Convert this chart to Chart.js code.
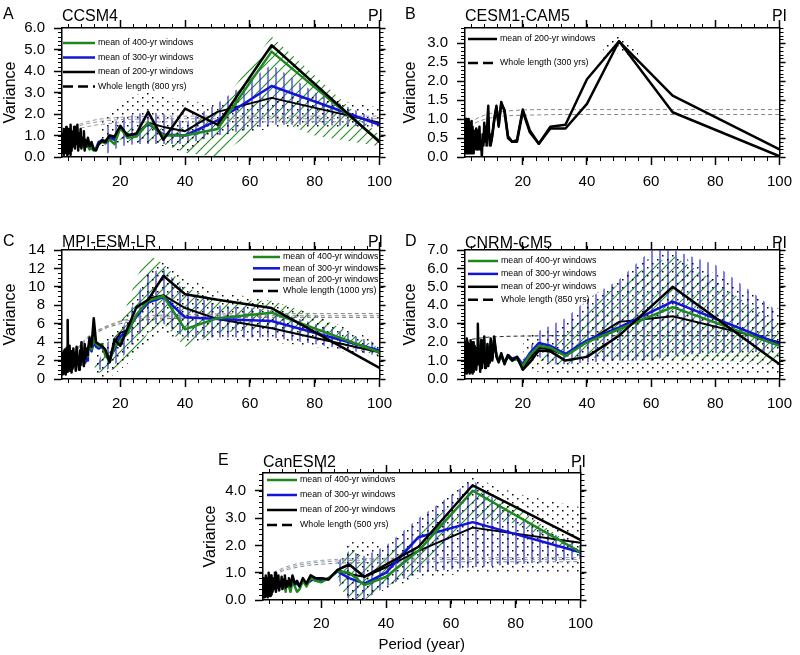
<!DOCTYPE html>
<html>
<head>
<meta charset="utf-8">
<script src="https://cdn.jsdelivr.net/npm/chart.js@4/dist/chart.umd.min.js"></script>
<style>
body { margin: 0; background: #fff; width: 800px; height: 655px; position: relative; overflow: hidden;
       font-family: "Liberation Sans", Arial, Helvetica, sans-serif; }
canvas { position: absolute; }
.lab { position: absolute; font-size: 16px; line-height: 16px; color: #000; white-space: nowrap; }
</style>
</head>
<body>
<canvas id="cA" width="400" height="200" style="left:0;top:0"></canvas>
<canvas id="cB" width="400" height="200" style="left:400px;top:0"></canvas>
<canvas id="cC" width="400" height="200" style="left:0;top:222px"></canvas>
<canvas id="cD" width="400" height="200" style="left:400px;top:222px"></canvas>
<canvas id="cE" width="400" height="210" style="left:200px;top:445px"></canvas>

<div class="lab" style="left:3px;top:6px">A</div>
<div class="lab" style="left:62px;top:8px">CCSM4</div>
<div class="lab" style="right:417px;top:8px">PI</div>
<div class="lab" style="left:405px;top:6px">B</div>
<div class="lab" style="left:465px;top:8px">CESM1-CAM5</div>
<div class="lab" style="right:13px;top:8px">PI</div>
<div class="lab" style="left:3px;top:233px">C</div>
<div class="lab" style="left:62px;top:234px">MPI-ESM-LR</div>
<div class="lab" style="right:417px;top:234px">PI</div>
<div class="lab" style="left:405px;top:233px">D</div>
<div class="lab" style="left:465px;top:235px">CNRM-CM5</div>
<div class="lab" style="right:13px;top:235px">PI</div>
<div class="lab" style="left:218px;top:452px">E</div>
<div class="lab" style="left:263px;top:454px">CanESM2</div>
<div class="lab" style="right:214px;top:454px">PI</div>

<script>
// periods (years) of the spectral estimates; series below are aligned to the long-period end
const periods = [2.0,2.1,2.2,2.3,2.4,2.5,2.6,2.7,2.8,2.9,3.0,3.1,3.2,3.3,3.4,3.5,3.6,3.7,3.8,3.9,
                 4.0,4.1,4.2,4.3,4.4,4.5,4.6,4.7,4.8,4.9,
                 5.0,5.25,5.5,5.75,6.0,6.25,6.5,6.75,7.0,7.25,7.5,7.75,8.0,8.25,8.5,8.75,9.0,9.25,9.5,9.75,
                 10.0,10.5,11.1,11.8,12.5,13.3,14.3,15.4,16.7,18.2,
                 20.0,22.2,25.0,28.6,33.3,40.0,50.0,66.7,100];
const rnPeriods = [2, 3, 4, 6, 8, 10, 13, 16, 20, 25, 30, 40, 60, 100];
const xTicks = [20, 40, 60, 80, 100];

// A  CCSM4
const aBlack  = [0.3,1.1,0.2,0.9,0.4,1.3,0.1,0.8,0.5,1.2,0.2,1.0,0.3,1.4,0.6,0.9,0.1,1.2,0.4,1.0,
                 0.2,1.3,0.7,1.1,0.3,0.9,0.1,1.5,0.5,1.2,
                 0.3,1.0,0.5,1.4,0.4,1.2,0.6,1.5,0.3,1.1,0.5,1.3,0.4,0.9,0.6,1.2,0.3,0.8,0.5,0.7,
                 0.9,0.5,0.7,0.35,0.3,0.6,0.75,0.7,1.0,0.95, 1.45,1.0,1.1,2.1,0.8,2.25,1.5,5.2,0.7];
const aBlack2 = [0.8,0.5,0.6,0.4,0.35,0.65,0.8,0.75,1.0,0.9, 1.35,1.05,1.05,1.6,1.4,1.2,2.1,2.75,1.6];
const aGreen  = [0.5,0.6,0.4,0.7,0.5,0.6, 0.5,0.35,0.4,0.3,0.35,0.6,0.7,0.65,0.8,0.6, 1.35,0.9,0.95,1.6,1.0,1.0,1.3,4.9,0.75];
const aBlue   = [0.6,0.5,0.7,0.5,0.6,0.5, 0.6,0.4,0.45,0.35,0.4,0.7,0.75,0.7,0.9,0.8, 1.4,1.0,1.05,1.55,1.05,1.0,1.7,3.3,1.5];
const aRn1 = [1.0,1.15,1.3,1.45,1.55,1.65,1.75,1.8,1.85,1.88,1.9,1.9,1.9,1.9];
const aRn2 = [0.95,1.1,1.22,1.38,1.48,1.56,1.64,1.7,1.74,1.76,1.78,1.78,1.78,1.78];
const aRn3 = [0.9,1.02,1.12,1.26,1.35,1.42,1.5,1.55,1.6,1.62,1.63,1.64,1.64,1.64];
const aHatchX = [14, 20, 25, 28.6, 33.3, 40, 50, 66.7, 80, 100];
const aDotLo = [0.5,0.6,0.6,0.6,0.5,0.2,1.0,1.3,1.4,1.3], aDotHi = [1.8,2.4,2.9,3.0,2.8,2.6,2.5,2.8,2.8,2.3];
const aVLo   = [0.0,0.5,0.6,0.6,0.6,0.6,1.0,1.5,1.5,1.4], aVHi   = [1.2,1.8,2.0,2.1,2.0,1.6,2.5,4.3,3.0,1.7];
const aDLo   = [0.5,0.8,0.7,0.7,0.6,0.2,0.0,1.8,1.0,0.5], aDHi   = [0.8,1.3,1.4,1.5,1.3,1.4,2.2,5.6,3.8,1.0];

// B  CESM1-CAM5
const bBlack  = [1.0,0.1,0.8,0.2,1.0,0.3,0.1,0.9,0.2,0.7,0.1,1.0,0.4,0.2,0.8,0.1,0.9,0.3,0.6,0.1,
                 0.95,0.2,0.7,0.1,0.8,0.3,0.5,0.1,0.7,0.2,
                 0.6,0.25,0.75,0.2,0.7,0.3,0.8,0.2,0.4,0.0,0.6,0.3,0.9,0.4,0.8,0.3,1.0,1.35,0.6,0.3,
                 0.3,0.6,1.0,1.35,0.8,1.45,1.2,0.5,0.4,0.45, 1.25,0.7,0.35,0.8,0.85,2.05,3.05,1.62,0.2];
const bBlack2 = [0.35,0.55,0.95,1.3,0.85,1.4,1.25,0.55,0.4,0.4, 1.2,0.65,0.35,0.75,0.75,1.4,3.05,1.18,0.02];
const bRn1 = [0.75,0.85,0.93,1.03,1.1,1.15,1.19,1.22,1.24,1.25,1.25,1.25,1.25,1.25];
const bRn2 = [0.65,0.76,0.84,0.93,0.99,1.03,1.07,1.09,1.1,1.11,1.12,1.12,1.12,1.12];
const bHatchX = [45, 50, 56];
const bDotLo = [2.6,2.75,2.5], bDotHi = [2.9,3.25,2.8];

// C  MPI-ESM-LR
const cBlack  = [1.0,2.8,0.5,2.2,0.8,3.0,1.2,2.5,0.6,3.2,1.0,2.6,0.5,2.9,1.5,3.4,0.8,2.2,6.4,1.5,
                 3.5,1.0,2.8,1.4,3.6,0.9,2.4,1.2,3.0,0.7,
                 2.6,1.1,3.3,1.4,2.8,0.9,3.5,1.6,2.4,1.0,3.1,1.5,4.0,2.0,2.8,1.4,3.8,2.2,3.3,2.6,
                 3.0,4.5,3.5,6.6,4.0,3.8,3.6,3.2,1.8,4.3, 3.6,5.5,7.8,8.6,11.2,9.2,8.6,7.7,1.2];
const cBlack2 = [3.2,4.0,3.5,5.5,3.8,3.7,3.5,3.0,2.2,4.0, 5.0,5.3,6.8,8.7,9.1,7.7,6.5,5.5,2.9];
const cGreen  = [1.5,2.4,0.8,2.0,1.0,2.6,1.3,2.2,0.9,2.8,1.2,2.3,0.8,2.5,1.6,3.0,1.0,2.0,3.5,1.7,
                 3.0,1.2,2.5,1.6,3.2,1.1,2.2,1.4,2.7,0.9,
                 2.3,1.3,3.0,1.6,2.5,1.1,3.1,1.8,2.2,1.2,2.8,1.7,3.5,2.2,2.6,1.6,3.4,2.3,3.0,2.5,
                 3.0,3.8,3.2,4.5,3.8,3.5,3.8,2.5,2.0,3.5, 4.2,5.0,7.0,8.5,9.0,5.4,6.6,7.2,2.9];
const cBlue   = [2.5,1.5,2.8,1.8,3.0,2.0, 3.0,3.5,3.0,4.0,3.5,3.3,3.5,2.8,2.3,3.2, 4.6,5.3,6.8,8.3,8.9,6.7,6.5,6.3,3.1];
const cRn1 = [0.8,1.5,2.1,3.1,3.9,4.6,5.3,5.8,6.3,6.7,6.9,7.0,7.1,7.1];
const cRn2 = [0.8,1.5,2.0,3.0,3.8,4.5,5.2,5.7,6.2,6.5,6.7,6.8,6.9,6.9];
const cRn3 = [0.7,1.4,1.9,2.9,3.7,4.4,5.1,5.6,6.0,6.3,6.5,6.6,6.7,6.7];
const cHatchX = [12, 16, 20, 25, 28.6, 33.3, 40, 50, 66.7, 80, 100];
const cDotLo = [0.0,0.0,1.0,2.5,4.0,5.0,4.0,4.3,4.0,3.5,2.4], cDotHi = [3.0,4.5,6.0,9.0,11.5,13.0,11.0,9.5,8.5,7.0,4.0];
const cVLo   = [1.0,1.0,2.0,4.5,6.0,6.0,4.5,4.5,4.5,3.8,2.5], cVHi   = [1.0,4.0,5.0,9.0,11.5,12.0,9.5,8.0,7.5,6.0,3.8];
const cDLo   = [0.5,1.0,1.0,3.0,5.0,6.0,3.5,5.0,5.5,4.5,2.5], cDHi   = [1.5,3.0,6.0,11.0,13.5,12.5,10.0,8.5,8.5,7.0,3.3];

// D  CNRM-CM5
const dBlack  = [1.0,2.0,0.5,1.7,0.3,2.2,0.8,1.5,0.4,2.0,0.6,1.9,0.5,1.8,0.3,1.6,0.9,2.1,0.4,1.4,
                 0.7,1.9,0.5,1.7,0.3,2.0,0.8,1.5,0.4,1.8,
                 0.6,1.7,0.5,1.3,3.0,0.8,1.5,0.4,2.1,0.6,1.6,0.9,2.3,0.6,1.4,0.8,1.9,0.7,1.2,0.9,
                 2.2,1.0,2.3,1.2,0.9,1.4,0.8,1.3,1.0,1.2, 0.5,0.9,1.55,1.5,1.0,1.2,2.35,5.0,0.8];
const dBlack2 = [2.0,1.1,2.1,1.3,1.0,1.3,0.9,1.2,1.0,1.1, 0.6,1.1,1.7,1.6,1.3,2.0,3.1,3.4,2.0];
const dGreen  = [1.2,1.7,0.6,1.5,0.5,1.9,0.9,1.4,0.6,1.8,0.8,1.5,0.7,1.6,0.5,1.4,1.0,1.8,0.6,1.3,
                 0.9,1.7,0.7,1.5,0.5,1.8,0.9,1.3,0.6,1.6,
                 0.8,1.5,0.7,1.2,2.2,1.0,1.4,0.7,1.9,0.8,1.5,1.0,2.0,0.8,1.3,0.9,1.7,0.8,1.1,1.0,
                 2.0,1.2,2.2,1.3,1.0,1.2,0.9,1.2,1.0,1.1, 0.7,1.3,1.8,1.7,1.25,2.0,2.7,3.9,1.8];
const dBlue   = [1.3,0.8,1.8,1.0,1.4,1.1, 1.9,1.1,2.0,1.3,1.0,1.3,0.9,1.3,1.1,1.2, 0.8,1.4,1.95,1.8,1.35,2.1,2.8,4.2,1.9];
const dRn1 = [2.05,2.1,2.15,2.2,2.25,2.28,2.3,2.32,2.33,2.34,2.35,2.35,2.35,2.35];
const dHatchX = [20, 25, 28.6, 33.3, 40, 50, 60, 66.7, 80, 100];
const dDotLo = [0.5,0.4,0.3,0.3,0.3,0.3,0.3,0.3,0.3,0.3], dDotHi = [2.5,2.5,2.6,3.0,4.3,5.5,6.6,6.9,5.7,3.8];
const dVLo   = [1.0,1.2,0.8,0.8,0.9,1.0,1.0,1.3,1.4,1.5], dVHi   = [1.0,2.6,2.9,3.3,4.3,5.4,7.0,7.0,6.2,3.6];
const dDLo   = [1.0,1.0,0.8,0.8,1.2,1.0,1.0,1.0,1.0,0.8], dDHi   = [1.0,1.0,1.6,2.3,3.7,5.2,6.2,6.7,5.3,2.9];

// E  CanESM2
const eBlack  = [0.2,0.6,0.1,0.8,0.2,0.5,0.1,0.7,0.3,0.9,0.15,0.6,0.35,0.8,0.1,0.65,0.3,1.0,0.2,0.55,
                 0.4,0.85,0.15,0.7,0.3,0.9,0.2,0.6,0.35,0.8,
                 0.3,0.75,0.4,1.0,0.3,0.7,0.45,0.9,0.35,0.65,0.5,0.85,0.4,0.75,0.55,0.9,0.45,0.7,0.5,0.6,
                 0.8,0.5,0.9,0.6,0.7,0.5,0.8,0.6,0.9,0.8, 0.8,0.75,1.1,1.3,0.85,1.3,1.95,4.2,2.2];
const eBlack2 = [0.75,0.55,0.85,0.6,0.65,0.55,0.75,0.6,0.85,0.8, 0.8,0.75,1.1,0.95,0.85,1.2,1.8,2.65,2.1];
const eGreen  = [0.4,0.6,0.3,0.7,0.5,0.6, 0.6,0.3,0.7,0.5,0.3,0.4,0.7,0.5,0.8,0.7, 0.65,0.8,1.05,1.0,0.55,0.85,1.8,4.0,1.75];
const eBlue   = [0.5,0.4,0.6,0.5,0.6,0.5, 0.6,0.5,0.6,0.55,0.6,0.5,0.7,0.6,0.7,0.8, 0.7,0.8,1.05,0.8,0.6,1.0,2.3,2.85,1.75];
const eRn1 = [0.6,0.72,0.82,0.96,1.06,1.13,1.21,1.27,1.31,1.35,1.37,1.39,1.4,1.4];
const eRn2 = [0.63,0.76,0.87,1.01,1.11,1.19,1.28,1.34,1.39,1.43,1.45,1.47,1.48,1.48];
const eRn3 = [0.66,0.8,0.91,1.06,1.16,1.25,1.34,1.4,1.45,1.49,1.51,1.53,1.55,1.55];
const eHatchX = [25, 28.6, 33.3, 40, 50, 66.7, 80, 100];
const eDotLo = [1.0,0.0,0.0,0.4,0.8,1.0,1.0,1.0], eDotHi = [1.4,2.1,2.2,2.0,3.0,4.5,3.9,3.4];
const eVLo   = [0.8,0.0,0.0,0.5,1.0,1.2,1.3,1.5], eVHi   = [1.4,1.8,1.6,2.0,3.0,4.4,3.0,2.0];
const eDLo   = [0.6,0.0,0.0,0.5,1.0,3.0,2.8,1.6], eDHi   = [1.0,2.0,1.5,1.7,2.5,4.1,3.4,1.8];

const legendMeans = ['mean of 400-yr windows', 'mean of 300-yr windows', 'mean of 200-yr windows'];

const GREEN = 'rgb(30,135,30)';
const BLUE = 'rgb(20,20,215)';
const FONT = '"Liberation Sans", Arial, Helvetica, sans-serif';

// series aligned to the long-period end of `periods`
function tail(ys) {
  const xs = periods.slice(periods.length - ys.length);
  return xs.map((x, i) => ({x: x, y: ys[i]}));
}
function zip(xs, ys) { return xs.map((x, i) => ({x: x, y: ys[i]})); }

function makePattern(kind) {
  const c = document.createElement('canvas');
  const g = c.getContext('2d');
  if (kind === 'dots') {
    c.width = 10; c.height = 8;
    g.fillStyle = '#000';
    g.fillRect(2, 1, 1.5, 1.5);
    g.fillRect(7, 5, 1.5, 1.5);
  } else if (kind === 'vert') {
    c.width = 8; c.height = 4;
    g.strokeStyle = 'rgb(60,60,225)'; g.lineWidth = 1.3;
    g.beginPath(); g.moveTo(4, 0); g.lineTo(4, 4); g.stroke();
  } else {
    c.width = 10; c.height = 10;
    g.strokeStyle = 'rgb(40,145,40)'; g.lineWidth = 1.2;
    g.beginPath();
    g.moveTo(0, 10); g.lineTo(10, 0);
    g.moveTo(-2, 2); g.lineTo(2, -2);
    g.moveTo(8, 12); g.lineTo(12, 8);
    g.stroke();
  }
  return g.createPattern(c, 'repeat');
}
const patDots = makePattern('dots');
const patVert = makePattern('vert');
const patDiag = makePattern('diag');

// small ticks between the labelled ones, on all four sides
const minorTicks = {
  id: 'minorTicks',
  afterDraw(chart, args, o) {
    if (!o || !o.y) return;
    const {ctx, chartArea: a, scales: {x, y}} = chart;
    ctx.save();
    ctx.strokeStyle = '#000'; ctx.lineWidth = 1;
    ctx.beginPath();
    for (let i = 1; i * o.x <= x.max + 1e-9; i++) {
      const px = Math.round(x.getPixelForValue(i * o.x)) + 0.5;
      ctx.moveTo(px, a.bottom); ctx.lineTo(px, a.bottom + 4);
      ctx.moveTo(px, a.top); ctx.lineTo(px, a.top - 4);
    }
    for (let i = 1; i * o.y <= y.max + 1e-9; i++) {
      const py = Math.round(y.getPixelForValue(i * o.y)) + 0.5;
      ctx.moveTo(a.left, py); ctx.lineTo(a.left - 4, py);
      ctx.moveTo(a.right, py); ctx.lineTo(a.right + 4, py);
    }
    ctx.stroke();
    ctx.restore();
  }
};

// legend drawn inside the plot box
const insideLegend = {
  id: 'insideLegend',
  afterDatasetsDraw(chart, args, o) {
    if (!o || !o.labels) return;
    const {ctx, chartArea: a} = chart;
    ctx.save();
    ctx.font = o.size + 'px ' + FONT;
    ctx.textBaseline = 'middle';
    ctx.fillStyle = '#000';
    o.labels.forEach((t, i) => {
      const x = a.left + o.x, y = a.top + o.y + i * o.gap;
      ctx.beginPath();
      ctx.strokeStyle = o.colors[i];
      ctx.lineWidth = 2.5;
      ctx.setLineDash(o.dashed[i] ? [10, 5] : []);
      ctx.moveTo(x, y); ctx.lineTo(x + o.len, y);
      ctx.stroke();
      ctx.fillText(t, x + o.len + 3, y);
    });
    ctx.restore();
  }
};
Chart.register(minorTicks, insideLegend);

function panel(id, p) {
  const ds = [];
  // first line in the list ends up drawn on top
  p.lines.forEach(l => ds.push({data: tail(l.y), borderColor: l.c, borderWidth: l.w, order: 0}));
  p.rn.forEach(r => ds.push({data: zip(rnPeriods, r.y), borderColor: r.c, borderWidth: 1, borderDash: [4, 3], order: 1}));
  p.hatch.forEach(h => {
    ds.push({data: zip(p.hx, h.lo), borderColor: 'rgba(0,0,0,0)', borderWidth: 0, order: 2});
    ds.push({data: zip(p.hx, h.hi), borderColor: 'rgba(0,0,0,0)', borderWidth: 0, fill: '-1', backgroundColor: h.pat, order: 2});
  });

  const font = {family: FONT, size: 15};
  const fmt = v => v.toFixed(p.dec);
  const axisBase = {
    type: 'linear',
    border: {color: '#000', width: 1.5},
    grid: {drawOnChartArea: false, drawTicks: true, tickLength: 8, tickWidth: 1.5, tickColor: '#000'}
  };

  new Chart(document.getElementById(id), {
    type: 'line',
    data: {datasets: ds},
    options: {
      responsive: false, animation: false, devicePixelRatio: 1,
      layout: {padding: {top: p.pt, right: p.pr, bottom: 0, left: 0}},
      elements: {point: {radius: 0}, line: {tension: 0, borderJoinStyle: 'round', fill: false}},
      plugins: {
        legend: {display: false}, tooltip: {enabled: false},
        minorTicks: {x: 4, y: p.yMinor},
        insideLegend: p.legend
      },
      scales: {
        x: Object.assign({}, axisBase, {
          position: 'bottom', min: 2, max: 100,
          afterBuildTicks: s => { s.ticks = xTicks.map(v => ({value: v})); },
          afterFit: s => { s.height = p.xh; },
          ticks: {font: font, color: '#000', padding: p.xpad, maxRotation: 0, autoSkip: false},
          title: {display: !!p.xTitle, text: p.xTitle || '', color: '#000', font: {family: FONT, size: 15}, padding: {top: 0, bottom: 1}}
        }),
        x2: Object.assign({}, axisBase, {
          position: 'top', min: 2, max: 100,
          afterBuildTicks: s => { s.ticks = xTicks.map(v => ({value: v})); },
          afterFit: s => { s.height = 8; },
          ticks: {display: false}
        }),
        y: Object.assign({}, axisBase, {
          position: 'left', min: 0, max: p.yMax,
          afterBuildTicks: s => { s.ticks = p.yTicks.map(v => ({value: v})); },
          afterFit: s => { s.width = p.yw; },
          ticks: {font: font, color: '#000', padding: 9, autoSkip: false, callback: fmt},
          title: {display: true, text: 'Variance', color: '#000', font: {family: FONT, size: 16}, padding: {top: 1, bottom: 0}}
        }),
        y2: Object.assign({}, axisBase, {
          position: 'right', min: 0, max: p.yMax,
          afterBuildTicks: s => { s.ticks = p.yTicks.map(v => ({value: v})); },
          afterFit: s => { s.width = 6; },
          grid: {drawOnChartArea: false, drawTicks: true, tickLength: 6, tickWidth: 1.5, tickColor: '#000'},
          ticks: {display: false}
        })
      }
    }
  });
}

const fourColors = [GREEN, BLUE, '#000', '#000'];
const fourDash = [false, false, false, true];

panel('cA', {
  yMax: 6, yTicks: [0, 1, 2, 3, 4, 5, 6], yMinor: 0.2, dec: 1, yw: 62, pt: 20, pr: 11, xh: 43, xpad: 8,
  lines: [{y: aBlack, c: '#000', w: 2.5}, {y: aGreen, c: GREEN, w: 2.5}, {y: aBlue, c: BLUE, w: 2.5}, {y: aBlack2, c: '#000', w: 2}],
  rn: [{y: aRn1, c: '#999'}, {y: aRn2, c: '#999'}, {y: aRn3, c: '#999'}],
  hx: aHatchX,
  hatch: [{lo: aDotLo, hi: aDotHi, pat: patDots}, {lo: aVLo, hi: aVHi, pat: patVert}, {lo: aDLo, hi: aDHi, pat: patDiag}],
  legend: {labels: legendMeans.concat(['Whole length (800 yrs)']), colors: fourColors, dashed: fourDash,
           x: 1, y: 15, gap: 14.5, len: 32, size: 8.8}
});

panel('cB', {
  yMax: 3.4, yTicks: [0, 0.5, 1, 1.5, 2, 2.5, 3], yMinor: 0.1, dec: 1, yw: 65, pt: 20, pr: 7, xh: 43, xpad: 8,
  lines: [{y: bBlack, c: '#000', w: 2.5}, {y: bBlack2, c: '#000', w: 2.5}],
  rn: [{y: bRn1, c: '#888'}, {y: bRn2, c: '#888'}],
  hx: bHatchX,
  hatch: [{lo: bDotLo, hi: bDotHi, pat: patDots}],
  legend: {labels: ['mean of 200-yr windows', 'Whole length (300 yrs)'], colors: ['#000', '#000'], dashed: [false, true],
           x: 3, y: 11, gap: 24, len: 29, size: 8.8}
});

panel('cC', {
  yMax: 14, yTicks: [0, 2, 4, 6, 8, 10, 12, 14], yMinor: 0.5, dec: 0, yw: 62, pt: 20, pr: 11, xh: 43, xpad: 8,
  lines: [{y: cBlack, c: '#000', w: 2.5}, {y: cGreen, c: GREEN, w: 2.5}, {y: cBlue, c: BLUE, w: 2.5}, {y: cBlack2, c: '#000', w: 2}],
  rn: [{y: cRn1, c: '#888'}, {y: cRn2, c: '#999'}, {y: cRn3, c: '#666'}],
  hx: cHatchX,
  hatch: [{lo: cDotLo, hi: cDotHi, pat: patDots}, {lo: cVLo, hi: cVHi, pat: patVert}, {lo: cDLo, hi: cDHi, pat: patDiag}],
  legend: {labels: legendMeans.concat(['Whole length (1000 yrs)']), colors: fourColors, dashed: fourDash,
           x: 191, y: 7, gap: 11.3, len: 27, size: 8.8}
});

panel('cD', {
  yMax: 7, yTicks: [0, 1, 2, 3, 4, 5, 6, 7], yMinor: 0.2, dec: 1, yw: 65, pt: 20, pr: 7, xh: 43, xpad: 8,
  lines: [{y: dBlack, c: '#000', w: 2.5}, {y: dGreen, c: GREEN, w: 2.5}, {y: dBlue, c: BLUE, w: 2.5}, {y: dBlack2, c: '#000', w: 2}],
  rn: [{y: dRn1, c: '#222'}],
  hx: dHatchX,
  hatch: [{lo: dDotLo, hi: dDotHi, pat: patDots}, {lo: dVLo, hi: dVHi, pat: patVert}, {lo: dDLo, hi: dDHi, pat: patDiag}],
  legend: {labels: legendMeans.concat(['Whole length (850 yrs)']), colors: fourColors, dashed: fourDash,
           x: 3, y: 11, gap: 12.9, len: 30, size: 8.8}
});

panel('cE', {
  yMax: 4.65, yTicks: [0, 1, 2, 3, 4], yMinor: 0.2, dec: 1, yw: 63, pt: 20, pr: 8, xh: 55, xpad: 7,
  xTitle: 'Period (year)',
  lines: [{y: eBlack, c: '#000', w: 2.5}, {y: eGreen, c: GREEN, w: 2.5}, {y: eBlue, c: BLUE, w: 2.5}, {y: eBlack2, c: '#000', w: 2}],
  rn: [{y: eRn1, c: '#7a8aa0'}, {y: eRn2, c: '#999'}, {y: eRn3, c: '#8a9ab0'}],
  hx: eHatchX,
  hatch: [{lo: eDotLo, hi: eDotHi, pat: patDots}, {lo: eVLo, hi: eVHi, pat: patVert}, {lo: eDLo, hi: eDHi, pat: patDiag}],
  legend: {labels: legendMeans.concat(['Whole length (500 yrs)']), colors: fourColors, dashed: fourDash,
           x: 4, y: 7, gap: 15, len: 30, size: 8.8}
});
</script>
</body>
</html>
